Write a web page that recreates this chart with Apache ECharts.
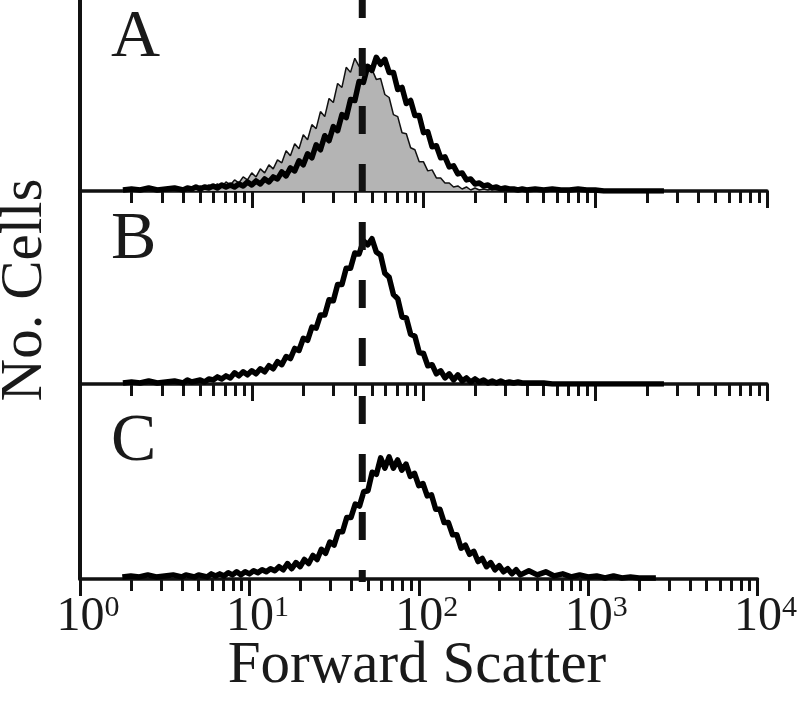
<!DOCTYPE html>
<html><head><meta charset="utf-8">
<script src="https://cdn.jsdelivr.net/npm/echarts@6/dist/echarts.min.js"></script>
<style>html,body{margin:0;padding:0;background:#fff}#c{width:800px;height:703px}</style>
</head><body><div id="c"></div>
<script>
// x sample positions: log10(Forward Scatter)
const logFSC = [
0.25,0.30,0.35,0.40,0.45,0.50,0.55,
0.600,0.625,0.650,0.675,0.700,0.725,0.750,0.775,
0.800,0.825,0.850,0.875,0.900,0.925,0.950,0.975,
1.000,1.025,1.050,1.075,1.100,1.125,1.150,1.175,
1.200,1.225,1.250,1.275,1.300,1.325,1.350,1.375,
1.400,1.425,1.450,1.475,1.500,1.525,1.550,1.575,
1.600,1.625,1.650,1.675,1.700,1.725,1.750,1.775,
1.800,1.825,1.850,1.875,1.900,1.925,1.950,1.975,
2.000,2.025,2.050,2.075,2.100,2.125,2.150,2.175,
2.200,2.225,2.250,2.275,2.300,2.325,2.350,2.375,
2.400,2.425,2.450,2.475,2.500,2.525,2.550,2.575,
2.600,
2.65,2.70,2.75,2.80,2.85,2.90,2.95,3.00,3.05,3.10,3.15,3.20,3.25,3.30,3.35,3.40];

// Panel A: control (grey filled) histogram
const controlA = [
1,2,1,2,1,3,2,
3,2,4,2,5,3,6,4,
7,4,9,6,11,8,14,11,
18,14,22,18,26,22,31,28,
40,35,47,42,56,51,66,62,
79,74,92,88,107,103,123,118,
132,124,130,119,121,111,112,96,
93,76,74,58,57,43,41,29,
29,20,21,13,13,8,8,4,
5,2,4,1,3,1,2,1,
2,1,1,2,1,1,1,1,
1,
1,1,0,1,0,1,0,0,0,0,0,0,0,0,0,0];

// Panel A: treated (thick black) histogram
const treatedA = [
1,2,1,3,1,2,3,
1,3,2,4,2,4,3,5,
3,6,4,6,4,7,5,9,
6,10,7,12,9,14,12,19,
15,23,20,30,26,37,33,46,
41,55,50,64,60,76,73,91,
90,109,108,124,120,133,126,131,
118,118,101,103,87,90,75,75,
58,59,44,45,33,34,24,25,
17,18,11,12,7,8,5,6,
3,4,2,3,2,2,1,2,
1,
2,1,2,1,1,2,1,1,0,0,0,0,0,0,0,0];

// Panel B histogram
const histB = [
1,2,1,3,1,2,3,
1,4,2,3,4,2,5,4,
7,5,8,6,11,8,12,9,
13,10,15,12,18,15,22,19,
27,25,35,33,45,43,56,55,
68,68,83,82,98,98,114,114,
129,128,141,137,143,130,127,109,
105,88,84,66,65,49,47,31,
30,18,19,10,13,6,10,4,
9,3,6,2,5,2,4,1,
3,1,3,1,2,1,2,1,
1,
1,1,0,0,0,0,0,0,0,0,0,0,0,0,0,0];

// Panel C histogram
const histC = [
2,3,2,4,2,3,4,
2,4,3,2,4,3,2,5,
3,5,3,6,4,7,4,7,
5,8,6,9,7,10,8,12,
9,15,10,16,12,19,15,23,
19,29,25,36,33,46,46,60,
60,73,71,85,86,104,102,118,
108,119,108,116,106,112,100,103,
91,93,81,82,68,68,55,55,
43,43,30,33,24,27,17,20,
12,16,9,13,7,10,5,9,
4,
8,4,7,3,5,2,4,2,3,1,3,1,2,1,1,1];

const panelLetters = ['A', 'B', 'C'];
const decadeTicks = [0, 1, 2, 3, 4];          // exponents: 10^0 ... 10^4
const minorMultipliers = [2, 3, 4, 5, 6, 7, 8, 9];
const gateFSC = 44;                           // dashed gate position
const xTitle = 'Forward Scatter';
const yTitle = 'No. Cells';

// ---------- layout / style ----------
const INK = '#111';
const TXT = '#1a1a1a';
const SERIF = '"Liberation Serif", "Times New Roman", serif';
const plotLeft = 80, plotWidth = 687;
const panels = [{ top: 0, height: 191 }, { top: 191, height: 193 }, { top: 384, height: 195 }];
const yMax = 190;

const minorTickVals = [];
decadeTicks.slice(0, -1).forEach(d => minorMultipliers.forEach(m => minorTickVals.push(d + Math.log10(m))));

const zip = ys => logFSC.map((x, i) => [x, ys[i]]);

const grid = panels.map(p => ({ left: plotLeft, width: plotWidth, top: p.top, height: p.height }));
grid.push({ left: plotLeft, width: plotWidth, top: 0, height: 582 });

const xAxis = [];
panels.forEach((p, i) => {
  xAxis.push({
    type: 'value', gridIndex: i, min: 0, max: 4, position: 'bottom',
    axisLine: { show: true, onZero: false, lineStyle: { color: INK, width: 3.5 } },
    axisTick: { show: true, customValues: minorTickVals, length: 12, lineStyle: { color: INK, width: 3 } },
    axisLabel: { show: false }, splitLine: { show: false }
  });
  xAxis.push({
    type: 'value', gridIndex: i, min: 0, max: 4, interval: 1, position: 'bottom',
    axisLine: { show: false, onZero: false },
    axisTick: { show: true, length: 17, lineStyle: { color: INK, width: 3 } },
    axisLabel: {
      show: i === 2, margin: 14, showMinLabel: true, showMaxLabel: true, hideOverlap: false,
      formatter: v => '{p| }{b|10}{s|' + v + '}',
      rich: {
        p: { width: 16, fontSize: 10 },
        b: { fontSize: 48, fontFamily: SERIF, color: TXT, lineHeight: 48 },
        s: { fontSize: 30, fontFamily: SERIF, color: TXT, lineHeight: 30, verticalAlign: 'top' }
      }
    },
    splitLine: { show: false }
  });
});
xAxis.push({ type: 'value', gridIndex: 3, min: 0, max: 4, show: false });

const yAxis = panels.map((p, i) => ({
  type: 'value', gridIndex: i, min: 0, max: yMax,
  axisLine: { show: true, lineStyle: { color: INK, width: 4 } },
  axisTick: { show: false }, axisLabel: { show: false }, splitLine: { show: false }
}));
yAxis.push({ type: 'value', gridIndex: 3, min: 0, max: 1, show: false });

const histLine = (data, xi, yi, z) => ({
  type: 'line', xAxisIndex: xi, yAxisIndex: yi, data: zip(data), showSymbol: false, symbol: 'none',
  lineStyle: { color: '#000', width: 5.5, join: 'round' }, z: z, silent: true
});

const series = [
  {
    type: 'line', xAxisIndex: 0, yAxisIndex: 0, data: zip(controlA), showSymbol: false, symbol: 'none',
    lineStyle: { color: INK, width: 1.5 }, areaStyle: { color: '#b4b4b4', opacity: 1 }, z: 2, silent: true
  },
  histLine(treatedA, 0, 0, 3),
  histLine(histB, 2, 1, 3),
  histLine(histC, 4, 2, 3),
  {
    type: 'line', xAxisIndex: 6, yAxisIndex: 3, symbol: 'none', silent: true, z: 10,
    data: [[Math.log10(gateFSC), 1], [Math.log10(gateFSC), 0]],
    lineStyle: { color: INK, width: 7, type: [28, 30], dashOffset: 10, cap: 'butt' }
  }
];

const letterY = [38.5, 240, 442.5];
const graphic = panelLetters.map((t, i) => ({
  type: 'text', x: 111, y: letterY[i], silent: true,
  style: { text: t, font: '68px ' + SERIF, fill: TXT, align: 'left', verticalAlign: 'middle' }
}));
graphic.push({
  type: 'text', x: 417, y: 666, silent: true,
  style: { text: xTitle, font: '59px ' + SERIF, fill: TXT, align: 'center', verticalAlign: 'middle' }
});
graphic.push({
  type: 'text', x: 25, y: 290, rotation: Math.PI / 2, silent: true,
  style: { text: yTitle, font: '59px ' + SERIF, fill: TXT, align: 'center', verticalAlign: 'middle' }
});

const chart = echarts.init(document.getElementById('c'), null, { renderer: 'canvas' });
chart.setOption({
  animation: false, backgroundColor: '#fff',
  textStyle: { fontFamily: SERIF },
  grid, xAxis, yAxis, series, graphic
});
</script></body></html>
